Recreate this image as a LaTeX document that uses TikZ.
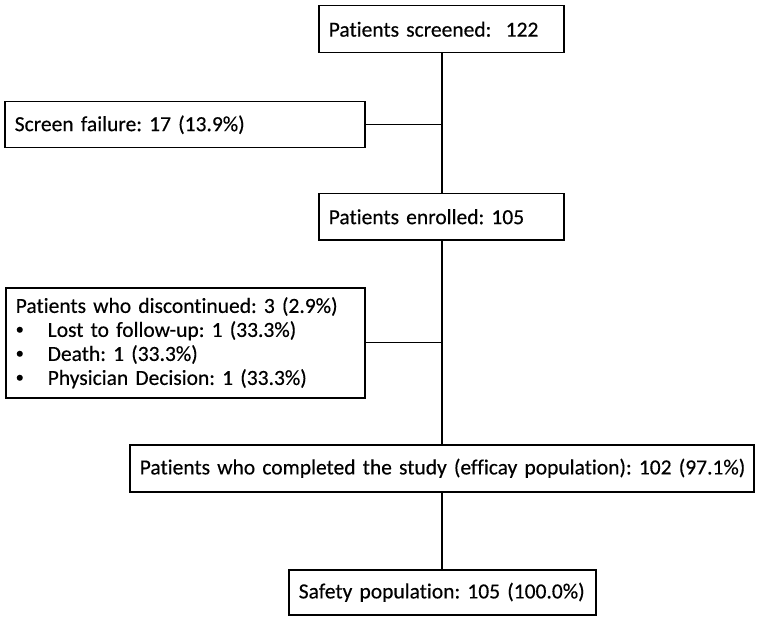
\documentclass[tikz,border=0pt]{standalone}
\usepackage{fontspec}
\setmainfont{Carlito}[Ligatures=NoCommon, FakeBold=0.35]
\newcommand{\smallbul}{\makebox[32pt][l]{\raisebox{0.12em}{\scalebox{0.75}{\textbullet}}}}
\begin{document}
\frenchspacing
\begin{tikzpicture}[x=1pt,y=-1pt,
  box/.style={draw=black, line width=1.5pt, anchor=north west, inner xsep=10pt, inner ysep=2pt,
    align=left, font=\fontsize{21.5}{24}\selectfont\frenchspacing, text=black},
  link/.style={draw=black, line width=1.3pt}]
\useasboundingbox (0,0) rectangle (759,620);
\coordinate (trunk) at (442,0);
\node[box, text width=225pt, minimum height=47pt] (scr) at (318,5) {\mbox{Patients screened:\ \ 122}};
\node[box, text width=340pt, minimum height=46pt] (fail) at (4,101) {\mbox{Screen failure: 17 (13.9\%)}};
\node[box, text width=225pt, minimum height=46pt] (enr) at (318,193) {\mbox{Patients enrolled: 105}};
\node[box, text width=339pt, minimum height=110pt] (disc) at (5,287) {\mbox{Patients who discontinued: 3 (2.9\%)}\\
\smallbul Lost to follow-up: 1 (33.3\%)\\
\smallbul Death: 1 (33.3\%)\\
\smallbul Physician Decision: 1 (33.3\%)};
\node[box, text width=604pt, minimum height=47pt] (comp) at (129,444) {\mbox{Patients who completed the study (efficay population): 102 (97.1\%)}};
\node[box, text width=287pt, minimum height=45pt] (safe) at (288,569) {\mbox{Safety population: 105 (100.0\%)}};
\draw[link] (scr.south -| trunk) -- (enr.north -| trunk);
\draw[link] (fail.east) -- (fail.east -| trunk);
\draw[link] (enr.south -| trunk) -- (comp.north -| trunk);
\draw[link] (disc.east) -- (disc.east -| trunk);
\draw[link] (comp.south -| trunk) -- (safe.north -| trunk);
\end{tikzpicture}
\end{document}
